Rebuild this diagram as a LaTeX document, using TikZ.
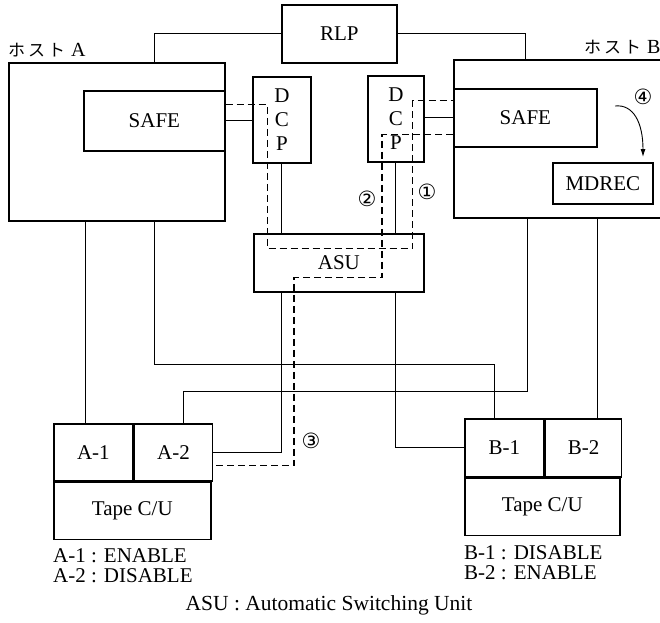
\documentclass[tikz,border=0pt]{standalone}
\usepackage{fontspec}
\setmainfont{Liberation Serif}
\newfontfamily\jpfont{Noto Sans CJK JP}
\newfontfamily\circfont{DejaVu Sans}
\usetikzlibrary{arrows.meta}

\begin{document}
\begin{tikzpicture}[x=1pt, y=-1pt, >={Latex[length=8pt,width=5pt]},
    font=\fontsize{21}{24}\selectfont,
    box/.style={draw, line width=1.7pt, anchor=north west, inner sep=0pt, align=center},
    conn/.style={line width=0.9pt},
    route/.style={line width=1.2pt, dash pattern=on 7pt off 4pt},
    num/.style={font=\circfont\fontsize{21}{21}\selectfont, inner sep=0pt},
    status/.style={anchor=north west, align=left, inner sep=0pt, font=\fontsize{21}{20}\selectfont}]

    \clip (0,0) rectangle (660,622);

    % Host e RLP
    \node[box, minimum width=216pt, minimum height=158pt] (hostA) at (8,62) {};
    \node[box, minimum width=214pt, minimum height=158pt] (hostB) at (453,59) {};
    \node[box, minimum width=115pt, minimum height=58pt] (rlp) at (281,4) {RLP};
    \node[anchor=south west, inner sep=0pt, font=\fontsize{17}{17}\selectfont] (labA) at ([yshift=5pt]hostA.north west) {{\jpfont ホ\kern3pt ス\kern3pt ト}\kern6pt{\fontsize{20}{20}\selectfont A}};
    \node[anchor=south east, inner sep=0pt, font=\fontsize{17}{17}\selectfont] (labB) at ([xshift=-8pt, yshift=5pt]hostB.north east) {{\jpfont ホ\kern3pt ス\kern3pt ト}\kern6pt{\fontsize{20}{20}\selectfont B}};

    % SAFE, MDREC, DCP, ASU
    \node[box, minimum width=141pt, minimum height=60pt] (safeA) at (83,90) {SAFE};
    \node[box, minimum width=143pt, minimum height=58pt] (safeB) at (453,88) {SAFE};
    \node[box, minimum width=100pt, minimum height=41pt] (mdrec) at (552,162) {MDREC};
    \node[box, minimum width=58pt, minimum height=86pt] (dcpA) at (252,76) {D\\C\\P};
    \node[box, minimum width=56pt, minimum height=86pt] (dcpB) at (367,75) {D\\C\\P};
    \node[box, minimum width=170pt, minimum height=58pt] (asu) at (253,233) {ASU};

    % Tape C/U
    \node[box, minimum width=79pt, minimum height=57pt] (a1) at (53,423) {A-1};
    \node[box, minimum width=78pt, minimum height=57pt] (a2) at (a1.north east) {A-2};
    \node[box, minimum width=157pt, minimum height=57pt] (tapeA) at (a1.south west) {Tape C/U};
    \node[box, minimum width=79pt, minimum height=58pt] (b1) at (464,418) {B-1};
    \node[box, minimum width=76pt, minimum height=58pt] (b2) at (b1.north east) {B-2};
    \node[box, minimum width=155pt, minimum height=57pt] (tapeB) at (b1.south west) {Tape C/U};
    \node[status] (stA) at ([yshift=-8pt]tapeA.south west) {A-1 : ENABLE\\A-2 : DISABLE};
    \node[status] (stB) at ([yshift=-9pt]tapeB.south west) {B-1 : DISABLE\\B-2 : ENABLE};

    % Linee
    \draw[conn] (rlp.west) -| ([xshift=38pt]hostA.north);
    \draw[conn] (rlp.east) -| ([xshift=-35pt]hostB.north);
    \draw[conn] (safeA.east) -- (safeA.east -| dcpA.west);
    \draw[conn] (safeB.west) -- (safeB.west -| dcpB.east);
    \draw[conn] (dcpA.south) -- (dcpA.south |- asu.north);
    \draw[conn] (dcpB.south) -- (dcpB.south |- asu.north);
    \draw[conn] (dcpA.south |- asu.south) |- (a2.east);
    \draw[conn] (dcpB.south |- asu.south) |- (b1.west);
    \draw[conn] ([xshift=-8pt]a1.north) -- ([xshift=-8pt]a1.north |- hostA.south);
    \draw[conn] ([xshift=38pt]hostA.south) -- ++(0,143) -| ([xshift=-10pt]b1.north);
    \draw[conn] ([xshift=-33pt]hostB.south) -- ++(0,173) -| ([xshift=10pt]a2.north);
    \draw[conn] ([xshift=14pt]b2.north) -- ([xshift=14pt]b2.north |- hostB.south);

    % Percorsi tratteggiati
    \draw[route] ([yshift=16pt]safeA.east) -- ++(42,0) -- ++(0,144) -- ++(145,0) |- ([yshift=17pt]safeB.west);
    \draw[route] ([yshift=-17pt]safeB.west) -- ++(-71,0) -- ++(0,143) -- ++(-88,0) |- ([yshift=-13pt]a2.east);
    \node[num] (n1) at (427,192) {①};
    \node[num] (n2) at (367,199) {②};
    \node[num] (n3) at (311,441) {③};
    \node[num] (n4) at (643,97) {④};

    % Freccia SAFE -> MDREC
    \coordinate (arrS) at (615,106);
    \coordinate (arrE) at (643,157);
    \draw[conn, ->] (arrS) .. controls (633,104) and (643,122) .. (arrE);

    \node[font=\fontsize{21.5}{24}\selectfont] (cap) at (329,605) {ASU : Automatic Switching Unit};
\end{tikzpicture}
\end{document}
